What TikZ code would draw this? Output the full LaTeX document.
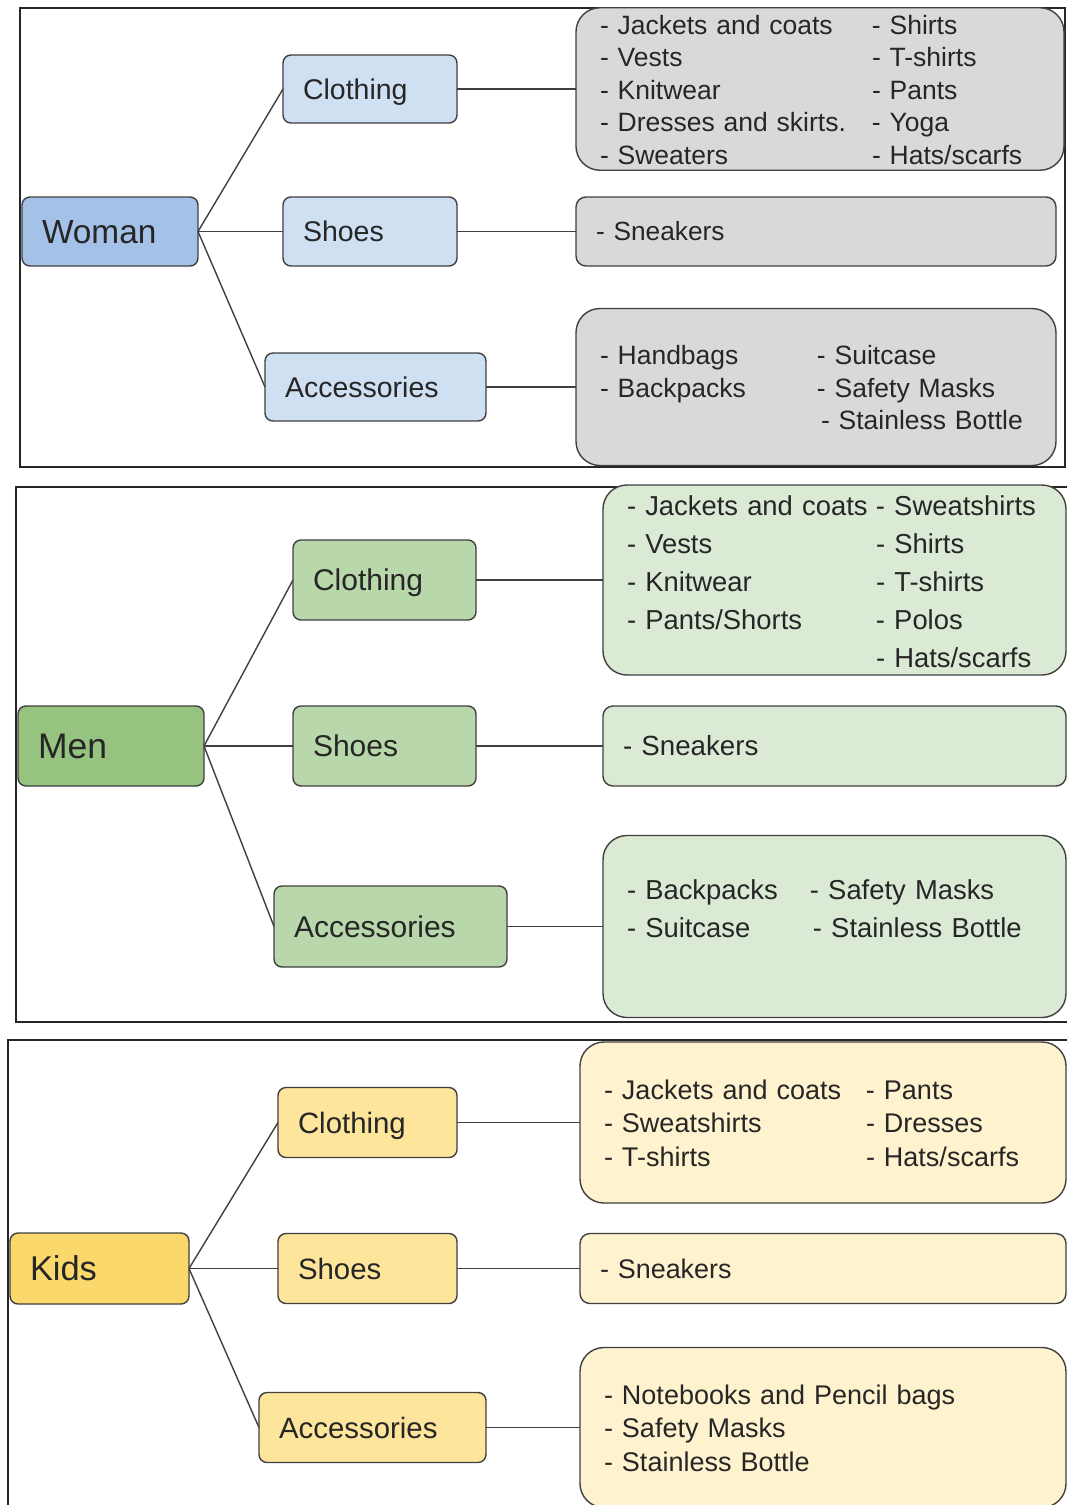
\documentclass[tikz,border=0pt]{standalone}
\usepackage{fontspec}
\setmainfont{Liberation Sans}
\usetikzlibrary{positioning}
\definecolor{myblue}{RGB}{164,194,232}
\definecolor{mylightblue}{RGB}{207,224,243}
\definecolor{mygray}{RGB}{217,217,217}
\definecolor{mygreen}{RGB}{150,196,128}
\definecolor{mylightgreen}{RGB}{184,215,170}
\definecolor{mypalegreen}{RGB}{218,234,212}
\definecolor{myyellow}{RGB}{250,216,108}
\definecolor{mylightyellow}{RGB}{253,229,156}
\definecolor{mypaleyellow}{RGB}{255,242,206}

\begin{document}
\begin{tikzpicture}[
		x=1pt, y=-1pt,
		frame/.style={draw=black!85, line width=1.8pt},
		box/.style 2 args={rectangle, draw=black!75, line width=1.4pt, outer sep=0pt, rounded corners=8pt, inner xsep=20pt, inner ysep=0pt, align=left, text width=#1, minimum height=#2, text=black!85},
		item/.style 2 args={box={#1}{#2}, rounded corners=10pt},
		list/.style 2 args={rectangle, draw=black!75, line width=1.4pt, outer sep=0pt, rounded corners=24pt, inner xsep=24pt, inner ysep=0pt, align=left, text width=#1, minimum height=#2, text=black!85},
		txt/.style={font=\fontsize{#1}{#1}\selectfont, text height=0.966*#1pt, text depth=0.25*#1pt},
		link/.style={draw=black!75, line width=1.4pt},
		wlist/.style={font=\fontsize{26.5}{32.5}\selectfont},
		mlist/.style={font=\fontsize{27.4}{38}\selectfont},
		klist/.style={font=\fontsize{27}{33.5}\selectfont}
		]
		
		\useasboundingbox[fill=white] (0,0) rectangle (1067,1505);
		
		% Frames
		\draw[frame] (20,8) rectangle (1065,467);
		\draw[frame] (16,487) rectangle (1080,1022);
		\draw[frame] (8,1040) rectangle (1080,1520);
		
		% Woman
		\node[box={136pt}{69pt}, txt=33.4, fill=myblue] (woman) at (110,231.5) {Woman};
		\node[box={134pt}{69pt}, txt=28.5, fill=mylightblue, right=85pt of woman] (wshoes) {Shoes};
		\node[box={134pt}{68pt}, txt=28.5, fill=mylightblue, above=74pt of wshoes] (wcloth) {Clothing};
		\node[box={181pt}{68pt}, txt=28.5, fill=mylightblue, below=87pt of wshoes, xshift=5.5pt] (wacc) {Accessories};
		
		\node[list={440pt}{158pt}, wlist, fill=mygray, right=119pt of wcloth] (wclothlist) {%
			\raisebox{-3.5pt}[\height][\depth]{\begin{tabular}{@{}p{272pt}@{}l@{}}
				- Jackets and coats & - Shirts\\
				- Vests & - T-shirts\\
				- Knitwear & - Pants\\
				- Dresses and skirts. & - Yoga\\
				- Sweaters & - Hats/scarfs
			\end{tabular}}};
		\node[item={440pt}{69pt}, txt=26.3, fill=mygray, right=119pt of wshoes] (wshoeslist) {- Sneakers};
		\node[list={432pt}{157pt}, wlist, fill=mygray, right=90pt of wacc] (wacclist) {%
			\raisebox{-3.5pt}[\height][\depth]{\begin{tabular}{@{}p{217pt}@{}l@{}}
				- Handbags & - Suitcase\\
				- Backpacks & - Safety Masks\\
				& \hspace{4pt}- Stainless Bottle
			\end{tabular}}};
		
		% Men
		\node[box={146pt}{80pt}, txt=35.5, fill=mygreen] (men) at (111,746) {Men};
		\node[box={143pt}{80pt}, txt=30, fill=mylightgreen, right=89pt of men] (mshoes) {Shoes};
		\node[box={143pt}{80pt}, txt=30, fill=mylightgreen, above=86pt of mshoes] (mcloth) {Clothing};
		\node[box={193pt}{81pt}, txt=30, fill=mylightgreen, below=100pt of mshoes, xshift=6pt] (macc) {Accessories};
		
		\node[list={415pt}{181pt}, mlist, fill=mypalegreen, right=127pt of mcloth] (mclothlist) {%
			\raisebox{-3.5pt}[\height][\depth]{\begin{tabular}{@{}p{249pt}@{}l@{}}
				- Jackets and coats & - Sweatshirts\\
				- Vests & - Shirts\\
				- Knitwear & - T-shirts\\
				- Pants/Shorts & - Polos\\
				& - Hats/scarfs
			\end{tabular}}};
		\node[item={423pt}{80pt}, txt=27.7, fill=mypalegreen, right=127pt of mshoes] (mshoeslist) {- Sneakers};
		\node[list={415pt}{182pt}, mlist, fill=mypalegreen, right=96pt of macc] (macclist) {%
			\raisebox{-3.5pt}[\height][\depth]{\begin{tabular}{@{}p{183pt}@{}l@{}}
				- Backpacks & - Safety Masks\\
				- Suitcase & \hspace{3pt}- Stainless Bottle\\
				&
			\end{tabular}}};
		
		% Kids
		\node[box={139pt}{71pt}, txt=34.4, fill=myyellow] (kids) at (99.5,1268.5) {Kids};
		\node[box={139pt}{70pt}, txt=29.4, fill=mylightyellow, right=89pt of kids] (kshoes) {Shoes};
		\node[box={139pt}{70pt}, txt=29.4, fill=mylightyellow, above=76pt of kshoes] (kcloth) {Clothing};
		\node[box={187pt}{70pt}, txt=29.4, fill=mylightyellow, below=89pt of kshoes, xshift=5pt] (kacc) {Accessories};
		
		\node[list={438pt}{161pt}, klist, fill=mypaleyellow, right=123pt of kcloth] (kclothlist) {%
			\raisebox{-3.5pt}[\height][\depth]{\begin{tabular}{@{}p{262pt}@{}l@{}}
				- Jackets and coats & - Pants\\
				- Sweatshirts & - Dresses\\
				- T-shirts & - Hats/scarfs
			\end{tabular}}};
		\node[item={446pt}{70pt}, txt=26.9, fill=mypaleyellow, right=123pt of kshoes] (kshoeslist) {- Sneakers};
		\node[list={438pt}{160pt}, klist, fill=mypaleyellow, right=94pt of kacc] (kacclist) {%
			\raisebox{-3.5pt}[\height][\depth]{\begin{tabular}{@{}l@{}}
				- Notebooks and Pencil bags\\
				- Safety Masks\\
				- Stainless Bottle
			\end{tabular}}};
		
		% Links
		\foreach \top/\pre in {woman/w, men/m, kids/k} {
			\draw[link] (\top.east) -- (\pre cloth.west);
			\draw[link] (\top.east) -- (\pre shoes.west);
			\draw[link] (\top.east) -- (\pre acc.west);
			\draw[link] (\pre cloth) -- (\pre clothlist);
			\draw[link] (\pre shoes) -- (\pre shoeslist);
			\draw[link] (\pre acc) -- (\pre acclist);
		}
		
	\end{tikzpicture}
\end{document}
